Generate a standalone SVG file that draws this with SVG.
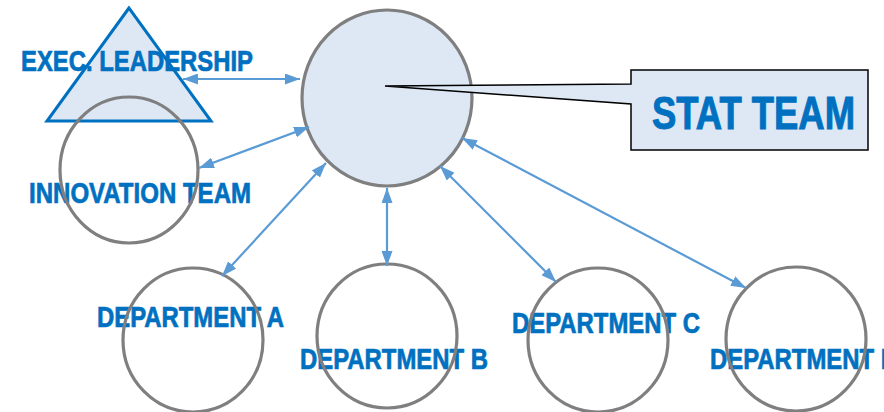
<svg xmlns="http://www.w3.org/2000/svg" width="884" height="412" viewBox="0 0 884 412">
<style>
.lbl{font-family:"Liberation Sans Narrow","Liberation Sans",Arial,sans-serif;font-weight:bold;fill:#0070c0;stroke:#0070c0;stroke-width:0.7;font-size:29px}
.ring{fill:none;stroke:#7f7f7f;stroke-width:3.2}
.con{stroke:#5b9bd5;stroke-width:2.2;fill:none;marker-start:url(#ah);marker-end:url(#ah)}
</style>
<defs>
<marker id="ah" viewBox="0 0 15 11" refX="15" refY="5.5" markerWidth="15" markerHeight="11" markerUnits="userSpaceOnUse" orient="auto-start-reverse">
<path d="M0,0 L15,5.5 L0,11 Z" fill="#5b9bd5"/>
</marker>
</defs>
<rect width="884" height="412" fill="#ffffff"/>
<g id="exec">
<polygon points="129,8 47,121 211,121" fill="#dde8f4"/>
<text class="lbl" x="21" y="71" textLength="232" lengthAdjust="spacingAndGlyphs">EXEC. LEADERSHIP</text>
<polygon points="129,8 47,121 211,121" fill="none" stroke="#0070c0" stroke-width="3"/>
</g>
<g id="innovation">
<text class="lbl" x="29" y="203" textLength="222" lengthAdjust="spacingAndGlyphs">INNOVATION TEAM</text>
<ellipse class="ring" cx="129" cy="170" rx="69" ry="73"/>
</g>
<g id="stat">
<ellipse cx="387" cy="98" rx="85" ry="88" fill="#dde8f4" stroke="#7f7f7f" stroke-width="3.2"/>
</g>
<g id="deptA">
<text class="lbl" x="97" y="327" textLength="187" lengthAdjust="spacingAndGlyphs">DEPARTMENT A</text>
<ellipse class="ring" cx="193" cy="340" rx="70" ry="72"/>
</g>
<g id="deptB">
<text class="lbl" x="300" y="369" textLength="188" lengthAdjust="spacingAndGlyphs">DEPARTMENT B</text>
<ellipse class="ring" cx="387" cy="336" rx="70" ry="72"/>
</g>
<g id="deptC">
<text class="lbl" x="512" y="333" textLength="188" lengthAdjust="spacingAndGlyphs">DEPARTMENT C</text>
<ellipse class="ring" cx="598" cy="340" rx="70" ry="72"/>
</g>
<g id="deptD">
<text class="lbl" x="710" y="369" textLength="188" lengthAdjust="spacingAndGlyphs">DEPARTMENT D</text>
<ellipse class="ring" cx="796" cy="339" rx="70" ry="72"/>
</g>
<g id="connectors">
<line class="con" x1="183" y1="79" x2="300" y2="79"/>
<line class="con" x1="199" y1="168" x2="309" y2="127"/>
<line class="con" x1="222" y1="276" x2="326" y2="163"/>
<line class="con" x1="387" y1="266" x2="387" y2="188"/>
<line class="con" x1="556" y1="282" x2="440" y2="166"/>
<line class="con" x1="746" y1="288" x2="462" y2="138"/>
</g>
<g id="stat-callout">
<path d="M631,70 L868,70 L868,150 L631,150 L631,104 L385,86 L631,84 Z" fill="#dde8f4" stroke="#000000" stroke-width="1.5" stroke-linejoin="miter"/>
<text class="lbl" x="652" y="129" style="font-size:47px;stroke-width:1" textLength="203" lengthAdjust="spacingAndGlyphs">STAT TEAM</text>
</g>
</svg>
